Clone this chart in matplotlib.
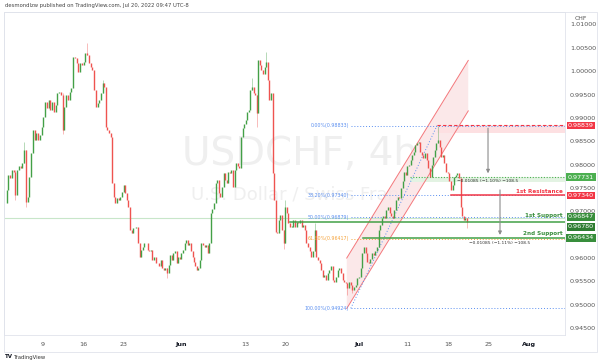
import matplotlib
matplotlib.use("Agg")
import matplotlib.pyplot as plt
from matplotlib.patches import Rectangle, Polygon
import numpy as np

# ---------------- data ----------------
first_open = 0.9717
closes = [
    # early / mid May
    0.9746, 0.9778, 0.9771, 0.9789, 0.9785, 0.9735, 0.9789, 0.9796, 0.9792, 0.9803,
    0.9831, 0.9721, 0.9731, 0.9774, 0.9824, 0.9874, 0.9853, 0.9867, 0.9853, 0.9863,
    0.9881, 0.9903, 0.9935, 0.9921, 0.9938, 0.9917, 0.9935, 0.9913, 0.9928, 0.9953,
    0.9956, 0.9949, 0.9874, 0.9924, 0.9949, 0.9938, 0.9956, 0.9963, 1.0031, 1.0028,
    1.0017, 0.9999, 1.0017, 1.0013, 1.0020, 1.0038, 1.0035, 1.0017, 1.0010, 1.0003,
    0.9960, 0.9924, 0.9931, 0.9938,
    # late May / early June
    0.9953, 0.9974, 0.9967, 0.9881, 0.9874, 0.9867, 0.9860, 0.9760, 0.9731, 0.9717,
    0.9728, 0.9724, 0.9731, 0.9742, 0.9756, 0.9739, 0.9724, 0.9710, 0.9660, 0.9653,
    0.9664, 0.9664, 0.9667, 0.9632, 0.9603, 0.9617, 0.9624, 0.9632, 0.9632, 0.9617,
    0.9614, 0.9617, 0.9596, 0.9603, 0.9589, 0.9589, 0.9582, 0.9596, 0.9578, 0.9574,
    0.9578, 0.9567, 0.9585, 0.9607, 0.9596, 0.9610, 0.9614, 0.9589, 0.9603, 0.9599,
    0.9610, 0.9617, 0.9632, 0.9639, 0.9628, 0.9632, 0.9614, 0.9603, 0.9592,
    # June rally and SNB drop
    0.9582, 0.9574, 0.9578, 0.9596, 0.9632, 0.9628, 0.9624, 0.9628, 0.9610, 0.9632,
    0.9696, 0.9706, 0.9717, 0.9760, 0.9767, 0.9739, 0.9731, 0.9753, 0.9781, 0.9767,
    0.9760, 0.9785, 0.9781, 0.9789, 0.9753, 0.9789, 0.9803, 0.9796, 0.9792, 0.9860,
    0.9878, 0.9888, 0.9896, 0.9913, 0.9917, 0.9960, 0.9967, 0.9953, 0.9949, 0.9910,
    1.0024, 1.0013, 1.0003, 0.9995, 1.0010, 1.0020, 0.9981, 0.9938, 0.9953, 0.9781,
    0.9724, 0.9656, 0.9653, 0.9681, 0.9692, 0.9660, 0.9632, 0.9710, 0.9696, 0.9674,
    0.9667,
    # late June low
    0.9667, 0.9681, 0.9667, 0.9678, 0.9674, 0.9681, 0.9667, 0.9671, 0.9660, 0.9632,
    0.9624, 0.9614, 0.9603, 0.9614, 0.9660, 0.9603, 0.9596, 0.9589, 0.9574, 0.9560,
    0.9564, 0.9553, 0.9567, 0.9574, 0.9582, 0.9553, 0.9549, 0.9560, 0.9574, 0.9578,
    0.9567, 0.9553, 0.9549, 0.9546, 0.9535, 0.9549, 0.9542, 0.9532, 0.9539, 0.9542,
    0.9557, 0.9560, 0.9578, 0.9610, 0.9624, 0.9610, 0.9592, 0.9589, 0.9599, 0.9610,
    0.9607, 0.9614, 0.9624, 0.9660,
    # July channel
    0.9671, 0.9685, 0.9689, 0.9685, 0.9703, 0.9710, 0.9696, 0.9689, 0.9685, 0.9703,
    0.9724, 0.9731, 0.9728, 0.9749, 0.9764, 0.9785, 0.9778, 0.9796, 0.9799, 0.9810,
    0.9821, 0.9828, 0.9842, 0.9846, 0.9849, 0.9828, 0.9821, 0.9814, 0.9824, 0.9810,
    0.9792, 0.9774, 0.9799, 0.9817, 0.9831, 0.9846, 0.9853, 0.9838, 0.9817, 0.9821,
    0.9803, 0.9785, 0.9781, 0.9764, 0.9746, 0.9756, 0.9774, 0.9778, 0.9781, 0.9771,
    0.9710, 0.9689, 0.9681, 0.9685, 0.9678,
]
# trading-day span (0 = 9 May) covered by each block of closes above
seg_days = [(-4.48, 6.95), (7.16, 18.68), (18.77, 30.49), (30.70, 41.44), (41.60, 52.35)]
seg_counts = [54, 59, 61, 54, 55]

wick_idx = [5, 10, 11, 32, 46, 55, 95, 149, 152, 158, 169, 170, 188, 208, 211, 264, 282]
wick_hi  = [0.9789, 0.9849, 0.9831, 0.9953, 1.0060, 0.9981, 0.9578, 0.9985, 0.9949,
            1.0042, 0.9660, 0.9725, 0.9675, 0.9546, 0.9539, 0.98833, 0.9685]
wick_lo  = [0.9725, 0.9803, 0.9710, 0.9865, 1.0035, 0.9953, 0.9557, 0.9960, 0.9880,
            1.0010, 0.9620, 0.9632, 0.9614, 0.9520, 0.9525, 0.9846, 0.9665]

time_ticks = [0, 5, 10, 17, 25, 30, 39, 45, 50, 55, 60]
time_labels = ["9", "16", "23", "Jun", "13", "20", "Jul", "11", "18", "25", "Aug"]
bold_labels = {"Jun", "Jul", "Aug"}

# drawing annotations (day, price)
chan_x0, chan_x1 = 37.5, 52.5
chan_lo0, chan_hi0, chan_slope = 0.9492, 0.9600, 0.00282
fib_x0, fib_x1 = 38.0, 48.64
fib_p0, fib_p1 = 0.94924, 0.98833
fib_ratios = [0.0, 0.382, 0.5, 0.618, 1.0]
res_top, res_band = 0.98839, 0.9868
grn_top, grn_band = 0.97731, 0.9762
res1, sup1, last_price, sup2 = 0.97340, 0.96847, 0.96780, 0.96434
res1_x0, sup1_x0, sup2_x0, grn_x0 = 50.4, 30.5, 39.5, 45.3
arrow1 = (54.94, 0.98839, 0.97754)
arrow2 = (56.42, 0.97519, 0.96434)
range_texts = ["\u22120.01085 (\u22121.10%) \u2212108.5", "\u22120.01085 (\u22121.11%) \u2212108.5"]
tag_vals = [0.98839, 0.97731, 0.97340, 0.96847, 0.96780, 0.96434]
tag_cols = ["#f23645", "#4caf50", "#f23645", "#388e3c", "#2e7d32", "#388e3c"]
tag_shift_px = [0, 0, 0, -1.5, 5.0, 0]   # label stacking offsets on the price scale

# ---------------- figure ----------------
W, H = 600, 361
fig = plt.figure(figsize=(6, 3.61), dpi=100)
fig.patch.set_facecolor("white")
L, R, T, B = 4, 565, 12, 335
YMIN, YMAX = 0.943522, 1.012676
ax = fig.add_axes([L / W, 1 - B / H, (R - L) / W, (B - T) / H])
x_lo, x_hi = (L - 43) / 8.1, (R - 43) / 8.1
ax.set_xlim(x_lo, x_hi)
ax.set_ylim(YMIN, YMAX)

up, dn = "#43a047", "#ef5350"
xs = np.concatenate([np.linspace(a, b, k) for (a, b), k in zip(seg_days, seg_counts)])
n = len(closes)
opens = [first_open] + closes[:-1]
for i in range(n):
    o, c = opens[i], closes[i]
    col = up if c >= o else dn
    lo, hi = min(o, c), max(o, c)
    if hi - lo < 0.00008:
        hi = lo + 0.00008
    ax.vlines(xs[i], lo, hi, color=col, lw=1.0, zorder=3)
for k, i in enumerate(wick_idx):
    o, c = opens[i], closes[i]
    col = up if c >= o else dn
    ax.vlines(xs[i], wick_lo[k], wick_hi[k], color=col, lw=0.6, alpha=0.45, zorder=2)

# watermark
ax.text(0.528, 0.56, "USDCHF, 4h", transform=ax.transAxes, ha="center", va="center",
        fontsize=28, color="#efefef", zorder=0)
ax.text(0.528, 0.435, "U.S. Dollar / Swiss Franc", transform=ax.transAxes, ha="center",
        va="center", fontsize=13, color="#efefef", zorder=0)

# channel
cx = [chan_x0, chan_x1, chan_x1, chan_x0]
cy = [chan_lo0, chan_lo0 + chan_slope * (chan_x1 - chan_x0),
      chan_hi0 + chan_slope * (chan_x1 - chan_x0), chan_hi0]
ax.add_patch(Polygon(list(zip(cx, cy)), closed=True, facecolor="#fbe3e4", edgecolor="none",
                     alpha=0.8, zorder=1))
ax.plot([cx[0], cx[1]], [cy[0], cy[1]], color="#f4787c", lw=0.7, zorder=2)
ax.plot([cx[3], cx[2]], [cy[3], cy[2]], color="#f4787c", lw=0.7, zorder=2)

# fib retracement
blue, orange = "#5b8ff0", "#f5a23a"
ax.plot([fib_x0, fib_x1], [fib_p0, fib_p1], color=blue, lw=0.7, ls=(0, (1, 2)), zorder=2)
for r in fib_ratios:
    p = fib_p1 - r * (fib_p1 - fib_p0)
    col = orange if r == 0.618 else blue
    ax.plot([fib_x0, x_hi], [p, p], color=col, lw=0.7, ls=(0, (1, 2)), zorder=2)
    ax.text(fib_x0 - 0.2, p, f"{r*100:.2f}%({p:.5f})", ha="right", va="center",
            fontsize=3.4, color=col, zorder=4)

# resistance band at top
ax.add_patch(Rectangle((fib_x1, res_band), x_hi - fib_x1, res_top - res_band,
                       facecolor="#fde0e2", edgecolor="none", zorder=1))
ax.plot([fib_x1, x_hi], [res_top, res_top], color="#f23645", lw=0.8, ls=(0, (3, 2)), zorder=2)
# green band
ax.add_patch(Rectangle((grn_x0, grn_band), x_hi - grn_x0, grn_top - grn_band,
                       facecolor="#e3f3e3", edgecolor="none", zorder=1))
ax.plot([grn_x0, x_hi], [grn_top, grn_top], color="#4caf50", lw=0.8, ls=(0, (1, 1.5)), zorder=2)

# levels
ax.plot([res1_x0, x_hi], [res1, res1], color="#f23645", lw=1.1, zorder=3)
ax.plot([x_lo, x_hi], [sup1, sup1], color="#c8e6c9", lw=0.8, zorder=1)
ax.plot([sup1_x0, x_hi], [last_price, last_price], color="#43a047", lw=1.1, zorder=3)
ax.plot([sup2_x0, x_hi], [sup2, sup2], color="#43a047", lw=1.1, zorder=3)
ax.text(x_hi - 0.3, res1 + 0.0003, "1st Resistance", ha="right", va="bottom", fontsize=4.1,
        color="#f23645", fontweight="bold", zorder=5)
ax.text(x_hi - 0.3, sup1 + 0.0002, "1st Support", ha="right", va="bottom", fontsize=4.1,
        color="#388e3c", fontweight="bold", zorder=5)
ax.text(x_hi - 0.3, sup2 + 0.0003, "2nd Support", ha="right", va="bottom", fontsize=4.1,
        color="#388e3c", fontweight="bold", zorder=5)

# range arrows
for (ax_x, p_a, p_b), txt in zip([arrow1, arrow2], range_texts):
    ax.annotate("", xy=(ax_x, p_b), xytext=(ax_x, p_a),
                arrowprops=dict(arrowstyle="-|>", color="#8c8c8c", lw=0.8, mutation_scale=5),
                zorder=4)
    ax.text(ax_x, p_b - 0.0011, txt, ha="center", va="center", fontsize=3.2,
            color="#333333", zorder=5)

# axes styling
for s in ax.spines.values():
    s.set_color("#e0e3eb")
    s.set_linewidth(0.6)
ax.set_xticks(time_ticks)
ax.set_xticklabels(time_labels)
for t in ax.get_xticklabels():
    t.set_fontsize(4.6)
    t.set_color("#131722" if t.get_text() in bold_labels else "#555555")
    if t.get_text() in bold_labels:
        t.set_fontweight("bold")
ax.tick_params(axis="x", length=0, pad=5)
yt = [round(v, 3) for v in np.arange(0.945, 1.0101, 0.005)]
ax.yaxis.tick_right()
ax.set_yticks(yt)
ax.set_yticklabels([f"{v:.5f}" if abs(v - 0.965) > 1e-6 else "" for v in yt])
ax.tick_params(axis="y", length=0, pad=3.5, labelsize=4.6, labelcolor="#555555")

# outer frame
fig.patches.append(Rectangle((L / W, 1 - 352 / H), (597 - L) / W, (352 - T) / H,
                             transform=fig.transFigure, fill=False, edgecolor="#e0e3eb",
                             lw=0.6))
fig.text(581 / W, 1 - 19 / H, "CHF", ha="center", va="center", fontsize=4.4, color="#555555")

# price tags
for p, col, dpx in zip(tag_vals, tag_cols, tag_shift_px):
    yfig = (p - YMIN) / (YMAX - YMIN) * ((B - T) / H) + (1 - B / H) - dpx / H
    fig.text(581 / W, yfig, f"{p:.5f}", ha="center", va="center", fontsize=4.6, color="white",
             bbox=dict(boxstyle="square,pad=0.22", facecolor=col, edgecolor="none"), zorder=6)

fig.text(5 / W, 1 - 5.5 / H, "desmondlzw published on TradingView.com, Jul 20, 2022 09:47 UTC-8",
         ha="left", va="center", fontsize=3.8, color="#444444")
fig.text(5 / W, 1 - 357 / H, "TV", ha="left", va="center", fontsize=4.0,
         color="#131722", fontweight="bold")
fig.text(14 / W, 1 - 357 / H, "TradingView", ha="left", va="center", fontsize=3.8,
         color="#333333")

fig.savefig("out.png", dpi=100, facecolor="white")
